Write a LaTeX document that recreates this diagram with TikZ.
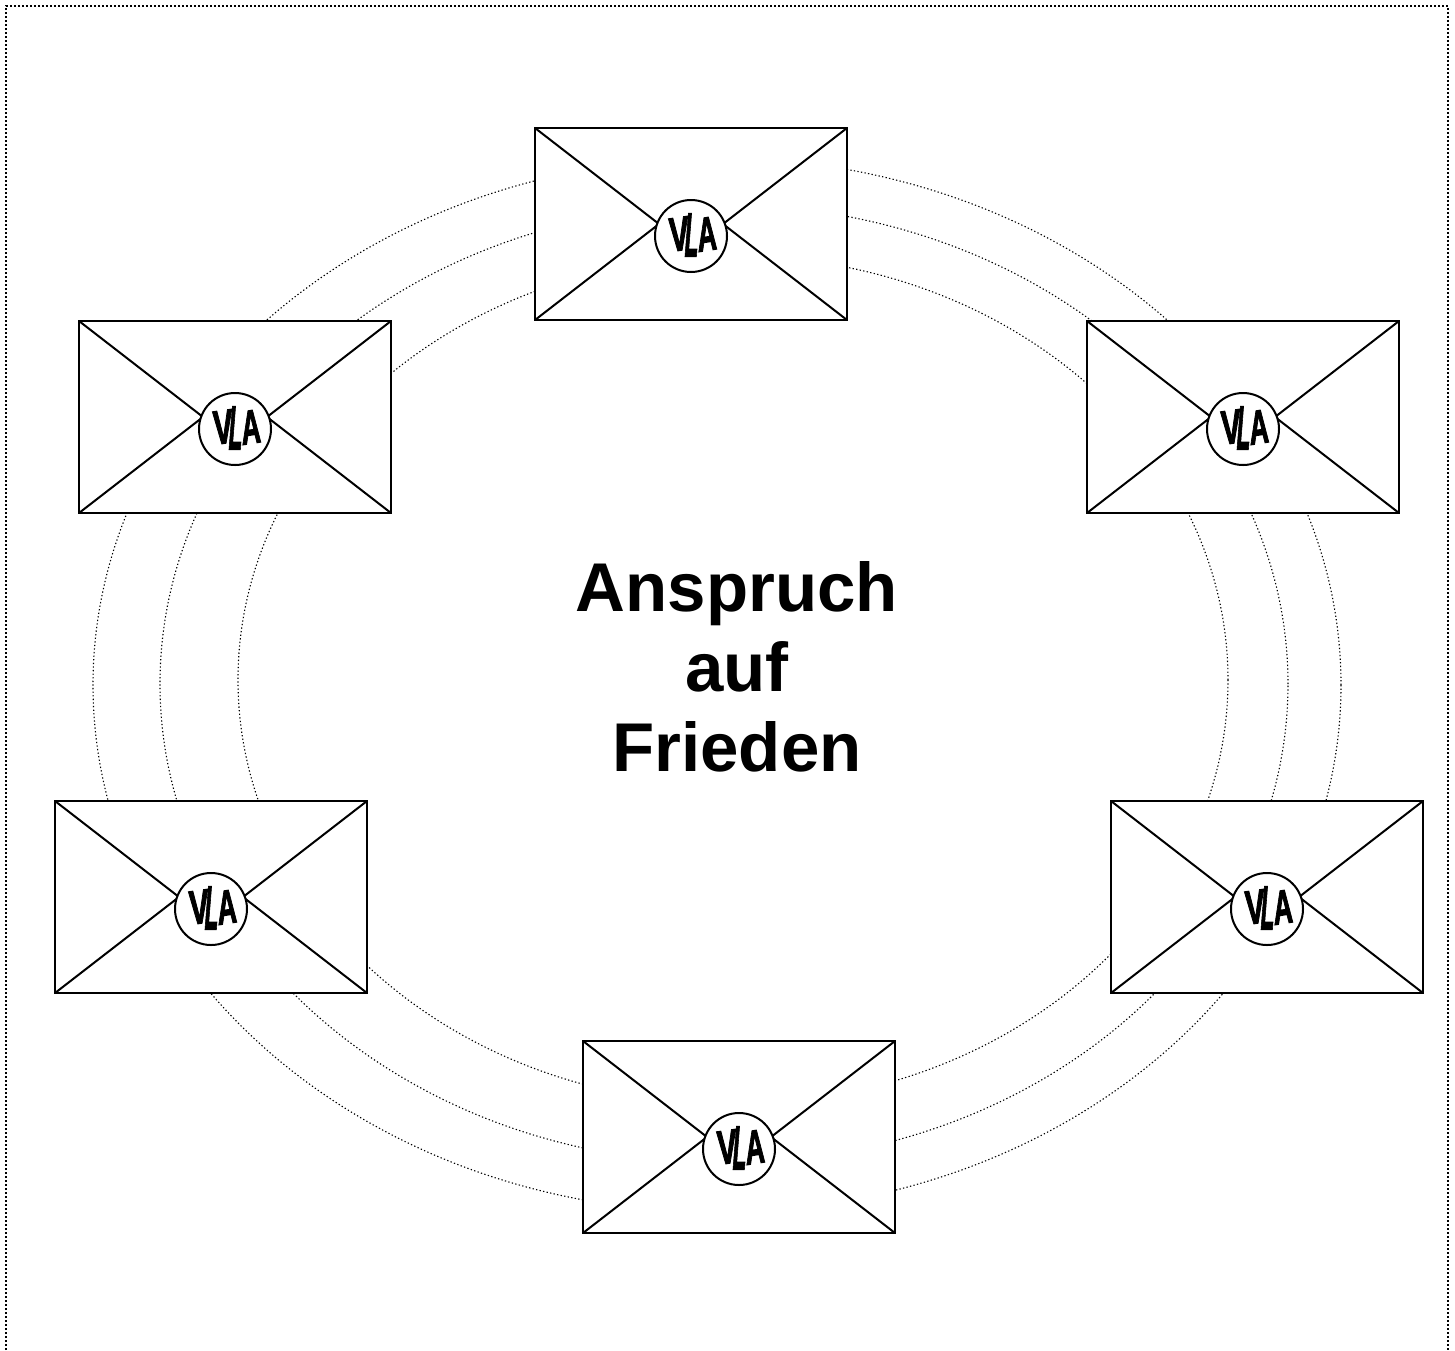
\documentclass[tikz,border=0pt]{standalone}
\usepackage{fontspec}
\setmainfont{Liberation Sans}
\newfontfamily\logofont[FakeBold=2.5]{Liberation Sans Bold}
\tikzset{
  x=1pt,y=-1pt,
  ring/.style={draw=black,line width=1.1pt,dash pattern=on 1.3pt off 2.3pt},
  frameline/.style={draw=black,line width=1.6pt,dash pattern=on 1.8pt off 2.2pt},
  envbox/.style={draw=black,fill=white,line width=2pt,minimum width=312pt,minimum height=192pt,inner sep=0pt,outer sep=0pt},
  flap/.style={draw=black,line width=2pt},
  seal/.style={circle,draw=black,fill=white,line width=2pt,minimum size=72pt,inner sep=0pt},
  sealV/.style={inner sep=0pt,font=\fontsize{48}{48}\logofont,xscale=.62,rotate=5,transform shape},
  sealA/.style={inner sep=0pt,font=\fontsize{48}{48}\logofont,xscale=.56,rotate=5,transform shape},
  sealL/.style={inner sep=0pt,font=\fontsize{62}{62}\logofont,xscale=.36,xslant=.22,transform shape},
  title/.style={align=center,font=\fontsize{69}{80}\selectfont\bfseries,inner sep=0pt}
}
\newcommand{\envelope}[3]{%
  \node[envbox] (#1) at (#2,#3) {};
  \coordinate (#1vl) at (#2-32,#3);
  \coordinate (#1vr) at (#2+32,#3);
  \draw[flap] (#1.north west) -- (#1vl) -- (#1.south west);
  \draw[flap] (#1.north east) -- (#1vr) -- (#1.south east);
  \node[seal] (#1s) at (#2,#3+12) {};
  \node[sealV] (#1V) at (#2-12,#3+10) {V};
  \node[sealA] (#1A) at (#2+16,#3+10) {A};
  \node[sealL] (#1L) at (#2+1,#3+11) {L};
}
\begin{document}
\begin{tikzpicture}
\useasboundingbox (0,0) rectangle (1455,1350);
\fill[white] (0,0) rectangle (1455,1350);
\coordinate (fa) at (6,1350);
\coordinate (fb) at (6,6);
\coordinate (fc) at (1448,6);
\coordinate (fd) at (1448,1350);
\draw[frameline] (fa) -- (fb) -- (fc) -- (fd);
\coordinate (co) at (717,685);
\coordinate (cm) at (724,684);
\coordinate (ci) at (733,680);
\draw[ring] (co) ellipse [x radius=624pt,y radius=527pt];
\draw[ring] (cm) ellipse [x radius=564pt,y radius=479pt];
\draw[ring] (ci) ellipse [x radius=495pt,y radius=424pt];
\envelope{top}{691}{224}
\envelope{ul}{235}{417}
\envelope{ur}{1243}{417}
\envelope{ll}{211}{897}
\envelope{lr}{1267}{897}
\envelope{bot}{739}{1137}
\node[title] (txt) at (737,667) {Anspruch\\auf\\Frieden};
\end{tikzpicture}
\end{document}
